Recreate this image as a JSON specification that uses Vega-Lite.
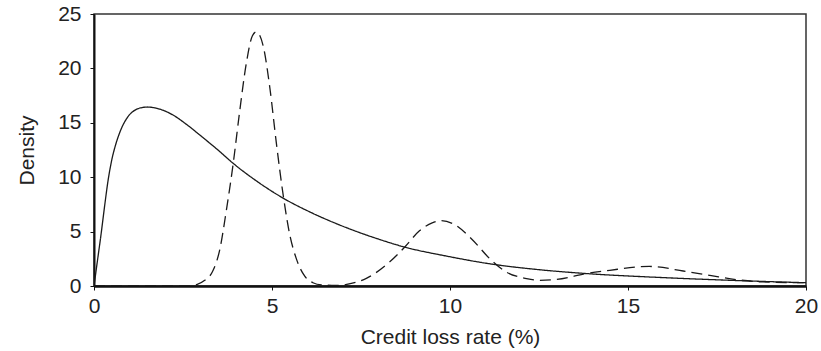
{
  "$schema": "https://vega.github.io/schema/vega-lite/v6.json",
  "width": 712,
  "height": 272,
  "autosize": {"type": "none"},
  "padding": {"left": 94, "top": 14, "right": 15, "bottom": 65},
  "data": {
    "values": [
      {"series": "solid", "rate": 0, "density": 0},
      {"series": "solid", "rate": 0.1, "density": 2.4},
      {"series": "solid", "rate": 0.2, "density": 4.8},
      {"series": "solid", "rate": 0.3, "density": 7.4},
      {"series": "solid", "rate": 0.4, "density": 9.8},
      {"series": "solid", "rate": 0.5, "density": 11.6},
      {"series": "solid", "rate": 0.6, "density": 12.9},
      {"series": "solid", "rate": 0.7, "density": 13.9},
      {"series": "solid", "rate": 0.8, "density": 14.7},
      {"series": "solid", "rate": 0.9, "density": 15.3},
      {"series": "solid", "rate": 1.0, "density": 15.75},
      {"series": "solid", "rate": 1.1, "density": 16.05},
      {"series": "solid", "rate": 1.2, "density": 16.25},
      {"series": "solid", "rate": 1.35, "density": 16.4},
      {"series": "solid", "rate": 1.5, "density": 16.45},
      {"series": "solid", "rate": 1.7, "density": 16.38},
      {"series": "solid", "rate": 1.9, "density": 16.2},
      {"series": "solid", "rate": 2.2, "density": 15.75},
      {"series": "solid", "rate": 2.6, "density": 14.85},
      {"series": "solid", "rate": 3.0, "density": 13.8},
      {"series": "solid", "rate": 3.5, "density": 12.45},
      {"series": "solid", "rate": 3.9, "density": 11.3},
      {"series": "solid", "rate": 4.5, "density": 9.8},
      {"series": "solid", "rate": 5.3, "density": 8.1},
      {"series": "solid", "rate": 6.1, "density": 6.75},
      {"series": "solid", "rate": 7.1, "density": 5.35},
      {"series": "solid", "rate": 8.0, "density": 4.3},
      {"series": "solid", "rate": 8.7, "density": 3.6},
      {"series": "solid", "rate": 9.9, "density": 2.75},
      {"series": "solid", "rate": 11.2, "density": 2.0},
      {"series": "solid", "rate": 12.5, "density": 1.5},
      {"series": "solid", "rate": 13.8, "density": 1.15},
      {"series": "solid", "rate": 16.0, "density": 0.77},
      {"series": "solid", "rate": 17.9, "density": 0.52},
      {"series": "solid", "rate": 20.0, "density": 0.3},
      {"series": "dashed", "rate": 0, "density": 0},
      {"series": "dashed", "rate": 2.6, "density": 0},
      {"series": "dashed", "rate": 2.9, "density": 0.15},
      {"series": "dashed", "rate": 3.1, "density": 0.5},
      {"series": "dashed", "rate": 3.34, "density": 1.4},
      {"series": "dashed", "rate": 3.53, "density": 3.3},
      {"series": "dashed", "rate": 3.72, "density": 7.0},
      {"series": "dashed", "rate": 3.91, "density": 11.25},
      {"series": "dashed", "rate": 4.09, "density": 16.0},
      {"series": "dashed", "rate": 4.28, "density": 20.5},
      {"series": "dashed", "rate": 4.45, "density": 23.0},
      {"series": "dashed", "rate": 4.56, "density": 23.35},
      {"series": "dashed", "rate": 4.75, "density": 22.1},
      {"series": "dashed", "rate": 4.94, "density": 18.2},
      {"series": "dashed", "rate": 5.12, "density": 13.2},
      {"series": "dashed", "rate": 5.33, "density": 8.0},
      {"series": "dashed", "rate": 5.5, "density": 4.7},
      {"series": "dashed", "rate": 5.69, "density": 2.45},
      {"series": "dashed", "rate": 5.92, "density": 0.9},
      {"series": "dashed", "rate": 6.15, "density": 0.3},
      {"series": "dashed", "rate": 6.4, "density": 0.1},
      {"series": "dashed", "rate": 6.8, "density": 0.05},
      {"series": "dashed", "rate": 7.1, "density": 0.15},
      {"series": "dashed", "rate": 7.65, "density": 0.7},
      {"series": "dashed", "rate": 8.3, "density": 2.2},
      {"series": "dashed", "rate": 8.73, "density": 3.58},
      {"series": "dashed", "rate": 9.15, "density": 5.1},
      {"series": "dashed", "rate": 9.5, "density": 5.8},
      {"series": "dashed", "rate": 9.75, "density": 6.0},
      {"series": "dashed", "rate": 10.08, "density": 5.73},
      {"series": "dashed", "rate": 10.6, "density": 4.35},
      {"series": "dashed", "rate": 11.12, "density": 2.5},
      {"series": "dashed", "rate": 11.58, "density": 1.29},
      {"series": "dashed", "rate": 12.15, "density": 0.68},
      {"series": "dashed", "rate": 12.5, "density": 0.52},
      {"series": "dashed", "rate": 13.0, "density": 0.6},
      {"series": "dashed", "rate": 13.83, "density": 1.14},
      {"series": "dashed", "rate": 14.49, "density": 1.44},
      {"series": "dashed", "rate": 15.24, "density": 1.75},
      {"series": "dashed", "rate": 15.6, "density": 1.8},
      {"series": "dashed", "rate": 15.8, "density": 1.76},
      {"series": "dashed", "rate": 16.55, "density": 1.38},
      {"series": "dashed", "rate": 17.3, "density": 0.98},
      {"series": "dashed", "rate": 18.04, "density": 0.59},
      {"series": "dashed", "rate": 18.79, "density": 0.37},
      {"series": "dashed", "rate": 19.73, "density": 0.31},
      {"series": "dashed", "rate": 20.0, "density": 0.3}
    ]
  },
  "mark": {"type": "line", "interpolate": "monotone", "strokeWidth": 1.3, "color": "#1a1a1a", "clip": true},
  "encoding": {
    "x": {
      "field": "rate",
      "type": "quantitative",
      "scale": {"domain": [0, 20], "nice": false},
      "axis": {
        "values": [0, 5, 10, 15, 20],
        "grid": false,
        "domainColor": "#111",
        "domainWidth": 2.5,
        "tickSize": 4,
        "tickColor": "#111",
        "tickWidth": 1,
        "labelFontSize": 21,
        "labelColor": "#222",
        "labelBaseline": "alphabetic",
        "labelPadding": 22,
        "labelFlush": false,
        "labelOverlap": false,
        "title": "Credit loss rate (%)",
        "titleFontSize": 21,
        "titleFontWeight": "normal",
        "titleColor": "#222",
        "titleBaseline": "alphabetic",
        "titleY": 57.5
      }
    },
    "y": {
      "field": "density",
      "type": "quantitative",
      "scale": {"domain": [0, 25], "nice": false},
      "axis": {
        "values": [0, 5, 10, 15, 20, 25],
        "grid": false,
        "domainColor": "#111",
        "domainWidth": 2,
        "tickSize": 4,
        "tickColor": "#111",
        "tickWidth": 1,
        "labelFontSize": 21,
        "labelColor": "#222",
        "labelPadding": 9,
        "labelFlush": false,
        "labelOverlap": false,
        "title": "Density",
        "titleFontSize": 21,
        "titleFontWeight": "normal",
        "titleColor": "#222",
        "titleBaseline": "alphabetic",
        "titleX": -61
      }
    },
    "strokeDash": {
      "field": "series",
      "type": "nominal",
      "scale": {"domain": ["solid", "dashed"], "range": [[1, 0], [11, 6]]},
      "legend": null
    }
  },
  "config": {
    "font": "Liberation Sans",
    "view": {"stroke": "#333", "strokeWidth": 1.5}
  }
}
